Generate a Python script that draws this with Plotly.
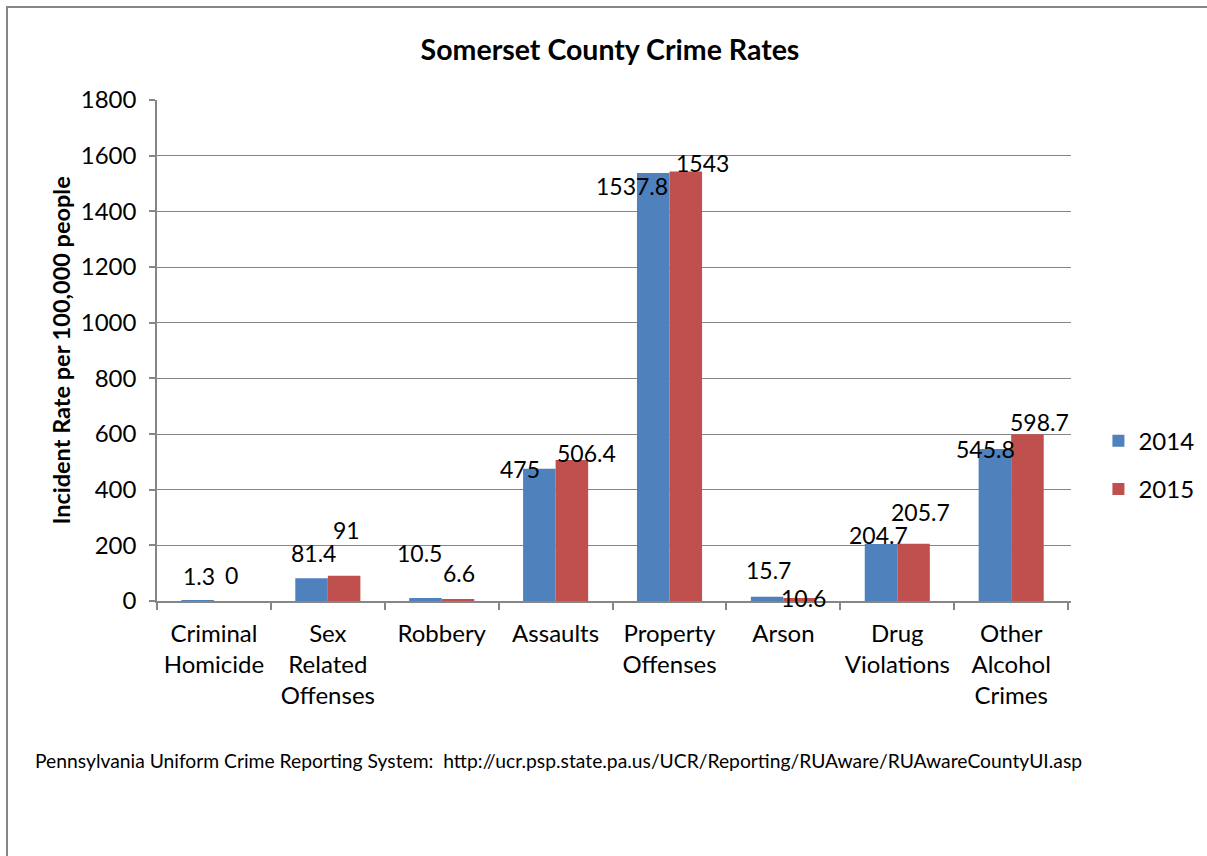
import plotly.graph_objects as go

categories = ["Criminal Homicide", "Sex Related Offenses", "Robbery", "Assaults",
              "Property Offenses", "Arson", "Drug Violations", "Other Alcohol Crimes"]
tick_labels = ["Criminal<br>Homicide", "Sex<br>Related<br>Offenses", "Robbery", "Assaults",
               "Property<br>Offenses", "Arson", "Drug<br>Violations", "Other<br>Alcohol<br>Crimes"]
rates_2014 = [1.3, 81.4, 10.5, 475, 1537.8, 15.7, 204.7, 545.8]
rates_2015 = [0, 91, 6.6, 506.4, 1543, 10.6, 205.7, 598.7]

# label offsets in pixels (dx, dy up) relative to the top-centre of each bar
label_off_2014 = [(1, 25), (2, 25), (-6, 45), (-19, 0), (-21, -13), (1, 27), (-2, 9), (-9, 0)]
label_off_2015 = [(1, 26), (2, 46), (1, 26), (15, 7), (17, 9), (4, 0), (7, 32), (12, 12)]

BLUE = "#4F81BD"
RED = "#C0504D"
GRID = "#868686"
FONT = "Lato"

fig = go.Figure()
fig.add_trace(go.Bar(x=categories, y=rates_2014, name="2014", marker_color=BLUE,
                     marker_line_width=0, legendgroup="a"))
fig.add_trace(go.Bar(x=categories, y=rates_2015, name="2015", marker_color=RED,
                     marker_line_width=0, legendgroup="b"))

plot_w = 914
n = len(categories)
bar_w = plot_w / n * (1 - 1.5 / 3.5) / 2
annotations = []
for vals, offs, sign in ((rates_2014, label_off_2014, -1), (rates_2015, label_off_2015, 1)):
    for c, v, (dx, dy) in zip(categories, vals, offs):
        annotations.append(dict(x=c, y=v, xref="x", yref="y", text=f"{v:g}", showarrow=False,
                                xshift=sign * bar_w / 2 + dx, yshift=dy,
                                font=dict(family=FONT, size=23, color="black")))

annotations.append(dict(x=-0.106, y=0.5, xref="paper", yref="paper", xanchor="center",
                        yanchor="middle", textangle=-90, showarrow=False,
                        text="<b>Incident Rate per 100,000 people</b>",
                        font=dict(family=FONT, size=23.5, color="black")))
annotations.append(dict(x=(33 - 157) / plot_w, y=(601 - 760) / 501, xref="paper", yref="paper",
                        xanchor="left", yanchor="middle", showarrow=False,
                        text="Pennsylvania Uniform Crime Reporting System:  http://ucr.psp.state.pa.us/UCR/Reporting/RUAware/RUAwareCountyUI.asp",
                        font=dict(family=FONT, size=19.3, color="black")))

fig.update_layout(
    width=1207, height=856,
    margin=dict(l=157, r=136, t=100, b=255, autoexpand=False),
    paper_bgcolor="white", plot_bgcolor="white",
    barmode="group", bargap=1.5 / 3.5, bargroupgap=0,
    title=dict(text="<b>Somerset County Crime Rates</b>", x=610 / 1207, xanchor="center",
               y=1 - 50 / 856, yanchor="middle", font=dict(family=FONT, size=28.5, color="black")),
    font=dict(family=FONT, size=24, color="black"),
    legend=dict(x=1.03, y=0.271, xanchor="left", yanchor="middle", tracegroupgap=14,
                font=dict(family=FONT, size=24, color="black"), bgcolor="rgba(0,0,0,0)"),
    annotations=annotations,
    shapes=[dict(type="rect", xref="paper", yref="paper",
                 x0=(7 - 157) / plot_w, x1=(1240 - 157) / plot_w,
                 y0=(601 - 900) / 501, y1=(601 - 7) / 501,
                 line=dict(color=GRID, width=2), fillcolor="rgba(0,0,0,0)", layer="below")],
)
fig.update_xaxes(tickvals=categories, ticktext=tick_labels, showline=True, linecolor=GRID,
                 linewidth=1.5, ticks="outside", tickson="boundaries", ticklen=7,
                 tickcolor=GRID, tickwidth=1.5, showgrid=False, ticklabelstandoff=10,
                 tickangle=0, automargin=False,
                 tickfont=dict(family=FONT, size=24, color="black"))
fig.update_yaxes(range=[0, 1800], dtick=200, showline=True, linecolor=GRID, linewidth=1.5,
                 ticks="outside", ticklen=6, tickcolor=GRID, tickwidth=1.5, ticklabelstandoff=8,
                 showgrid=True, gridcolor=GRID, gridwidth=1.2, zeroline=False, automargin=False,
                 tickfont=dict(family=FONT, size=24, color="black"))

fig.write_html("out.html", config={"displayModeBar": False},
               post_script="document.body.style.margin='0';document.body.style.overflow='hidden';")
